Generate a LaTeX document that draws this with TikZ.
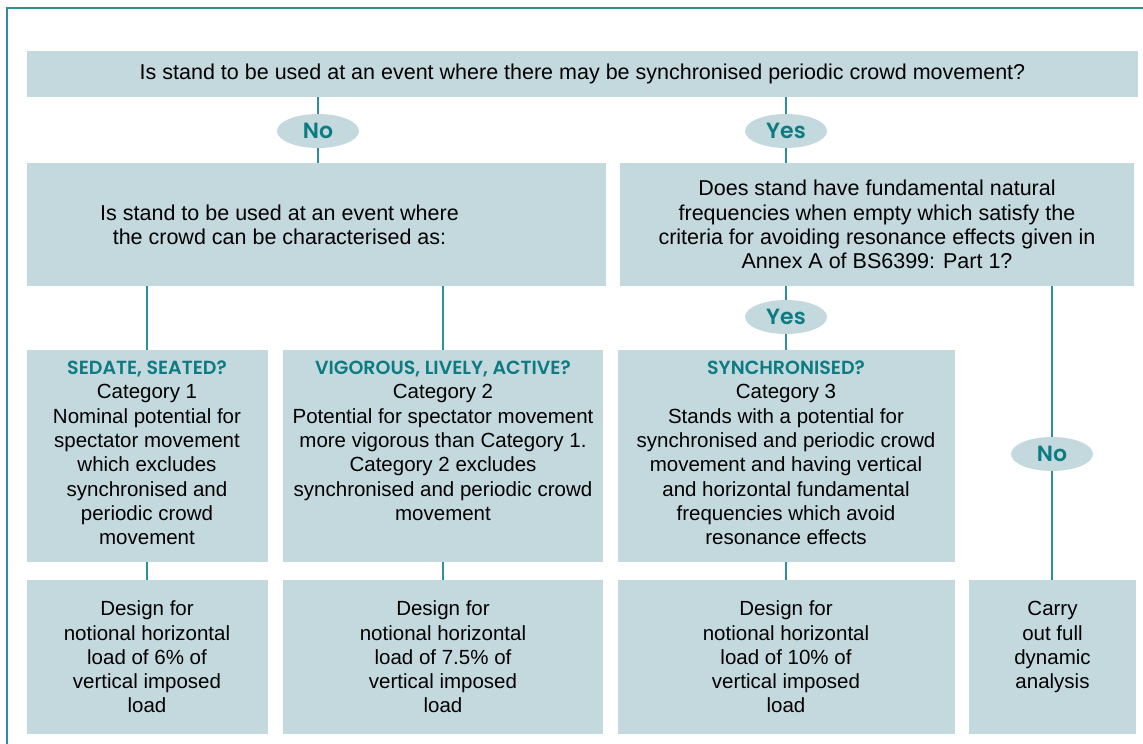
\documentclass[tikz,border=0pt]{standalone}
\usepackage{fontspec}
\setmainfont{Liberation Sans}
\newfontfamily\headfont{Poppins}[UprightFont={* SemiBold}]
\usetikzlibrary{shapes.geometric,positioning}
\definecolor{boxfill}{HTML}{C4D9DE}
\definecolor{tealtext}{HTML}{0C7B82}
\definecolor{tealline}{HTML}{2C9099}
\newcommand{\bodysize}{\fontsize{21.5}{24.3}\selectfont}
\newcommand{\cellsize}{\fontsize{20.5}{24.3}\selectfont}
\newcommand{\headline}[1]{{\headfont\fontsize{19}{24.3}\selectfont\color{tealtext}#1}}
\newcommand{\topcell}[4]{\parbox[c][#2][t]{#1}{\centering\cellsize\rule{0pt}{#3}#4\par}}
\tikzset{
    box/.style={fill=boxfill, inner sep=0pt, align=center, font=\bodysize},
    answer/.style={ellipse, fill=boxfill, minimum width=82pt, minimum height=34pt, inner sep=0pt, font=\headfont\fontsize{22}{24}\selectfont, text=tealtext},
    link/.style={draw=tealline, line width=1.2pt}
}
\begin{document}
\begin{tikzpicture}[x=1pt, y=-1pt]
\useasboundingbox (0,0) rectangle (1143,744);
\draw[tealline, line width=1.3pt] (7,744) -- (7,8) -- (1143,8);

% questions
\node[box, minimum width=1111pt, minimum height=46pt] (event) at (582.5,74) {Is stand to be used at an event where there may be synchronised periodic crowd movement?};
\node[answer] (no1) at (318,131) {No};
\node[answer] (yes1) at (786,131) {Yes};
\node[box, minimum width=579pt, minimum height=123pt] (crowd) at (316.5,224.5) {Is stand to be used at an event where\hspace*{74pt}\\the crowd can be characterised as:\hspace*{74pt}};
\node[box, minimum width=514pt, minimum height=123pt] (freq) at (877,224.5) {Does stand have fundamental natural\\frequencies when empty which satisfy the\\criteria for avoiding resonance effects given in\\Annex A of BS6399: Part 1?};

% categories
\node[box] (cat1) at (147,456) {\topcell{241pt}{212pt}{24.5pt}{\headline{SEDATE, SEATED?}\\Category 1\\Nominal potential for\\spectator movement\\which excludes\\synchronised and\\periodic crowd\\movement}};
\node[box] (cat2) at (443,456) {\topcell{320pt}{212pt}{24.5pt}{\headline{VIGOROUS, LIVELY, ACTIVE?}\\Category 2\\Potential for spectator movement\\more vigorous than Category 1.\\Category 2 excludes\\synchronised and periodic crowd\\movement}};
\node[box] (cat3) at (786,456) {\topcell{337pt}{212pt}{24.5pt}{\headline{SYNCHRONISED?}\\Category 3\\Stands with a potential for\\synchronised and periodic crowd\\movement and having vertical\\and horizontal fundamental\\frequencies which avoid\\resonance effects}};
\node[answer] (yes2) at (786,317) {Yes};
\node[answer] (no2) at (1052,454) {No};

% loads
\node[box] (load1) at (147,657) {\topcell{241pt}{154pt}{35.7pt}{Design for\\notional horizontal\\load of 6\% of\\vertical imposed\\load}};
\node[box] (load2) at (443,657) {\topcell{320pt}{154pt}{35.7pt}{Design for\\notional horizontal\\load of 7.5\% of\\vertical imposed\\load}};
\node[box] (load3) at (786,657) {\topcell{337pt}{154pt}{35.7pt}{Design for\\notional horizontal\\load of 10\% of\\vertical imposed\\load}};
\node[box] (dyn) at (1052.5,657) {\topcell{167pt}{154pt}{35.7pt}{Carry\\out full\\dynamic\\analysis}};

\draw[link] (no1.north) -- (no1.north |- event.south);
\draw[link] (no1.south) -- (no1.south |- crowd.north);
\draw[link] (yes1.north) -- (yes1.north |- event.south);
\draw[link] (yes1.south) -- (yes1.south |- freq.north);
\draw[link] (cat1.north) -- (cat1.north |- crowd.south);
\draw[link] (cat2.north) -- (cat2.north |- crowd.south);
\draw[link] (yes2.north) -- (yes2.north |- freq.south);
\draw[link] (yes2.south) -- (yes2.south |- cat3.north);
\draw[link] (no2.north) -- (no2.north |- freq.south);
\draw[link] (no2.south) -- (no2.south |- dyn.north);
\foreach \i in {1,2,3}
    \draw[link] (cat\i.south) -- (load\i.north);
\end{tikzpicture}
\end{document}
